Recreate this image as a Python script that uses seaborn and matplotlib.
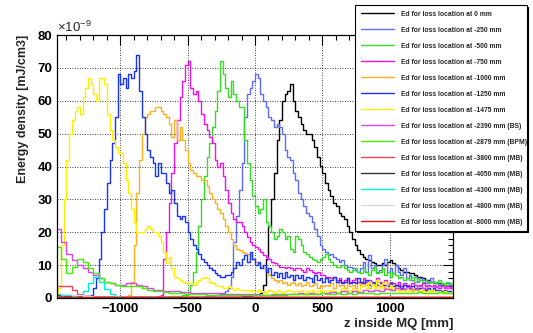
"""energy density along MQ for several beam loss locations"""

import pandas as pd
import matplotlib
matplotlib.use("Agg")
import matplotlib.pyplot as plt
from matplotlib.ticker import MultipleLocator
import seaborn as sns

# fine bins (20 mm) for the peaked series, coarse bins (40 mm) for far losses
z_fine = list(range(-1470, 1471, 20))
edges_fine = list(range(-1480, 1481, 20))
z_coarse = list(range(-1460, 1461, 40))
edges_coarse = list(range(-1480, 1481, 40))

labels = [
    "Ed for loss location at 0 mm",
    "Ed for loss location at -250 mm",
    "Ed for loss location at -500 mm",
    "Ed for loss location at -750 mm",
    "Ed for loss location at -1000 mm",
    "Ed for loss location at -1250 mm",
    "Ed for loss location at -1475 mm",
    "Ed for loss location at -2390 mm (BS)",
    "Ed for loss location at -2879 mm (BPM)",
    "Ed for loss location at -3800 mm (MB)",
    "Ed for loss location at -4050 mm (MB)",
    "Ed for loss location at -4300 mm (MB)",
    "Ed for loss location at -4800 mm (MB)",
    "Ed for loss location at -8000 mm (MB)",
]
colors = ["#000000", "#5b6cff", "#33dd22", "#ee11ee", "#ffb020", "#1733ff", "#ffee00",
          "#dd44ee", "#44ee00", "#ee4455", "#333333", "#00eedd", "#d8d8d8", "#ee1111"]

# values in units of 1e-9 mJ/cm3, 20 mm bins
ed_0 = ([0.8, 0.8, 0.8, 0.7, 0.6, 0.6, 0.5, 0.5, 0.4, 0.4,
         0.4, 0.4] + [0.3] * 54 +
        [0.4, 0.4, 0.4, 0.5,
         0.5, 0.6, 0.7, 0.8, 0.9, 1.0, 1.5, 4, 12, 22,
         30, 38, 48, 54, 60, 62, 63, 65, 60, 57,
         55, 53, 51, 50, 50, 48, 46, 43, 40, 38,
         35, 33, 31, 29, 28, 26, 25, 24, 22, 20,
         18, 16, 14.5, 13.5, 12.5, 12, 11.5, 11, 10.5, 10,
         10, 10.5, 10, 11, 11.5, 10.5, 10, 9, 8.5, 8,
         8, 7.5, 7.5, 7, 6.5, 6.5, 6, 5.5, 5.5, 5,
         5, 4.5, 4.5, 4, 4, 3.5, 3.5, 3])
ed_250 = ([0.5, 0.5, 0.4, 0.4, 0.4] + [0.3] * 45 +
          [0.3, 0.3, 0.4, 0.4, 0.4, 0.5, 0.5, 0.6, 0.7, 0.8,
           1, 1.2, 1.5, 2, 3, 6.5, 17, 25, 33, 41,
           55, 62, 64, 66, 68, 67, 62, 60, 58, 55,
           54, 52, 53, 52, 50, 45, 43, 42, 38, 36,
           32, 30, 28, 26, 25, 23, 21, 19, 16, 15,
           14, 13, 13.5, 12.5, 12, 11, 11.5, 10, 9.5, 9.5,
           9, 8.5, 8, 9, 11, 8, 13, 9, 10, 8,
           8.5, 10, 12, 8, 9, 7.5, 10, 8, 7, 9,
           6, 7, 5.5, 6.5, 5, 6, 5.5, 4.5, 5, 6,
           4.5, 5, 4, 4.5, 3.5, 4.5, 4, 3.5])
ed_500 = ([0.3] * 40 +
          [0.4, 0.4, 0.5, 0.5, 0.6, 0.6, 0.7, 0.8, 1, 1.2,
           4, 8, 14, 22, 30, 37, 43, 47, 52, 57,
           63, 72, 68, 64, 61, 66, 62, 60, 58, 58,
           48, 41, 36, 31, 28, 26, 27, 30, 23, 22,
           20, 18, 19, 21, 20, 18, 19, 15, 14, 19,
           18, 16, 14, 13.5, 12.5, 12, 11.5, 11, 12, 12.5,
           13.5, 12, 11, 10, 9.5, 9.5, 10, 9, 8.5, 8,
           8.5, 9, 8, 7.5, 9, 8, 7, 8.5, 9.5, 7.5,
           8, 9, 7, 8, 6.5, 7.5, 7, 6, 6.5, 5.5,
           6, 5.5, 6.5, 5, 6, 5.5, 5, 5.5, 4.5, 5,
           5, 4.5, 5.5, 4.5, 4, 5, 4.5, 4])
ed_750 = ([0.3] * 37 + [0.4, 0.5, 0.8] +
          [12, 20, 29, 38, 47, 54, 61, 66, 71, 72,
           64, 62, 63, 60, 56, 53, 51, 49, 47, 42,
           40, 41, 37, 33, 29, 26, 24, 23, 23, 22,
           20, 18.5, 17, 16, 15.5, 15, 14, 13, 12.5, 12,
           11, 10.5, 10, 9.5, 9.5, 9, 9.5, 9, 8.5, 9,
           9, 8.5, 8, 9, 8.5, 8, 7.5, 8, 7, 7,
           6.5, 6.5, 6, 6.5, 5.5, 6, 5, 5.5, 6, 5,
           5.5, 6, 5, 4.5, 6, 5, 5.5, 4.5, 5, 6,
           5, 4.5, 5.5, 4, 5, 4.5, 4, 5, 3.5, 4.5,
           4, 3.5, 4.5, 4, 3.5, 4, 4.5, 3.5, 4, 3.5,
           4, 3.5, 3, 3.5, 3, 3.5, 3, 3])
ed_1000 = ([0.3] * 20 +
           [0.3, 0.3, 0.3, 0.3, 0.3, 0.4, 0.5, 1, 5, 16,
            32, 42, 50, 55, 56, 57, 57, 58, 58, 57,
            56, 55, 53, 49, 54, 48, 52, 48, 45, 41,
            39, 38, 37, 37, 36, 36, 34, 32, 30, 29,
            27, 26, 24, 22, 20, 18, 16, 15, 14.5, 14,
            13.7, 13.5, 13, 12, 11, 10.5, 9.5, 9, 8, 7,
            6, 5.5, 5, 5.5, 4.5, 5, 4, 4.5, 5, 4,
            4.5, 3.5, 4, 5, 3.5, 4, 4.5, 3, 4, 3.5,
            4, 3.5, 4.5, 3, 5, 3.5, 4, 3, 4.5, 3.5,
            4, 3, 4.5, 3.5, 5, 4, 3, 4.5, 3.5, 5,
            3.5, 4, 3, 4.5, 3, 2.5, 3.5, 3, 2.5, 3,
            2.5, 3, 2, 2.5, 3, 2, 2.5, 2, 2.5, 2,
            2, 2.5, 2, 1.5, 2, 2, 1.5, 2])
ed_1250 = ([0.3] * 12 +
           [0.5, 1, 3, 6, 12, 20, 27, 35,
            42, 47, 55, 68, 65, 67, 64, 68, 67, 69,
            74, 63, 55, 50, 45, 43, 41, 37, 41, 38,
            38, 35, 32, 33, 29, 25, 24, 25, 23, 20,
            18, 16, 15, 13.5, 12, 11, 10, 9, 8.5, 7.5,
            7, 6.5, 6.5, 7, 7, 8, 9, 11, 10, 12,
            13, 11, 14, 12, 10, 11, 9, 10, 8, 9,
            7, 8, 6.5, 7.5, 6, 8, 6.5, 7, 5.5, 7,
            6, 7, 5.5, 6.5, 6, 5, 7, 5.5, 6, 5,
            6, 5, 5.5, 6.5, 5, 5.5, 4.5, 5, 6, 4.5,
            5, 4.5, 6, 5, 4.5, 5.5, 4, 5, 4.5, 4,
            4.5, 4, 4, 3.5, 4.5, 3.5, 4, 3.5, 3, 4,
            3.5, 3, 3.5, 3, 2.5, 3, 3, 2.5, 3, 2.5,
            3, 2.5, 2.5, 2, 2.5, 2, 2, 2])
ed_1475 = [0.5, 3, 16, 30, 42, 50, 54, 57, 58, 56,
           61, 64, 67, 65, 62, 60, 67, 67, 65, 56,
           51, 48, 46, 44, 44, 41, 36, 32, 27, 23,
           20, 20, 20, 21, 22, 21, 20, 20, 19, 17,
           14, 10.6, 12.5, 9, 6.5, 6, 5.5, 5, 4.5, 4.5,
           4.5, 4, 5, 5.5, 6, 6.5, 6, 5, 4.5, 4,
           3.5, 3.5, 3, 3, 3.5, 3, 2.5, 3, 2.5, 2.5,
           2.5, 2, 2.5, 2, 2, 2.5, 2, 1.5, 2, 2.5,
           2, 1.5, 2.5, 2, 1.5, 2, 2.5, 2, 1.5, 2,
           2, 2.5, 1.5, 2, 2, 2.5, 1.5, 2, 2.5, 2,
           2, 1.5, 2.5, 2, 1.5, 2, 3, 2, 2.5, 2,
           3, 2, 2.5, 3.5, 4, 3, 5, 4, 3, 5.5,
           3, 4.5, 5, 3, 4, 2.5, 3, 2, 2.5, 2,
           2.5, 2, 3, 2.5, 2, 2.5, 2, 1.5, 2, 2.5,
           2, 1.5, 2, 1.5, 2, 1.5, 1.5, 2]

# far loss locations, 40 mm bins
ed_2390 = [21, 17, 13.5, 11.5, 10, 9, 8, 7, 6, 5,
           4.5, 4, 4, 4.5, 4.5, 4, 3.5, 3, 2.5, 2.5,
           2.2, 2, 2, 1.8, 1.8, 1.6, 1.6, 1.5, 1.5, 1.4,
           1.4, 1.3, 1.3, 1.2, 1.2, 1.2, 1.1, 1.1, 1.0, 1.0,
           1.0, 1.2, 1.0, 1.3, 1.1, 1.4, 1.2, 1.5, 1.3, 1.6,
           1.4, 1.8, 1.5, 2.0, 1.6, 2.2, 1.8, 2.5, 2.0, 2.4,
           2.2, 2.8, 2.4, 3.0, 2.6, 3.2, 2.8, 3.5, 3.0, 3.8,
           3.2, 3.6, 3.0, 3.4]
ed_2879 = [15.5, 12, 7.5, 9.5, 12, 11, 9, 7.5, 6, 5,
           4.5, 4, 3.5, 3.5, 3.5, 3.5, 3, 2.5, 2, 2,
           1.8, 1.5, 1.5, 1.4, 1.3, 1.2, 1.2, 1.1, 1.0, 1.0,
           1.0, 1.0, 0.9, 0.9, 1.0, 1.0, 0.9, 1.0, 1.0, 1.0,
           1.1, 1.0, 1.2, 1.1, 1.3, 1.2, 1.1, 1.3, 1.2, 1.4,
           1.2, 1.3, 1.5, 1.2, 1.4, 1.3, 1.5, 1.4, 1.6, 1.3,
           1.5, 1.4, 1.6, 1.5, 1.4, 1.6, 1.5, 1.7, 1.5, 1.6,
           1.5, 1.7, 1.6, 1.5]
ed_3800 = [3.8, 3.6, 3.6, 2.4, 1.2, 0.6, 0.4, 0.3] + [0.2] * 66
ed_4050 = [1.0, 0.9, 0.8, 0.7, 0.7, 0.6, 0.5, 0.4] + [0.3] * 66
ed_4300 = [1.2, 1.0, 0.8, 0.6, 0.8, 2, 4.5, 6.5, 5, 2.8,
           1.2, 0.6, 0.4] + [0.2] * 61
ed_4800 = [1.5, 1.3, 1.1, 0.9, 0.8, 0.6, 0.5, 0.4] + [0.3] * 66
ed_8000 = [0.4, 0.4, 0.3] + [0.2] * 71

series = [ed_0, ed_250, ed_500, ed_750, ed_1000, ed_1250, ed_1475,
          ed_2390, ed_2879, ed_3800, ed_4050, ed_4300, ed_4800, ed_8000]

sns.set_theme(style="white")
plt.rcParams["font.family"] = ["Liberation Sans", "DejaVu Sans"]
plt.rcParams["font.weight"] = "bold"
plt.rcParams["mathtext.default"] = "regular"

fig = plt.figure(figsize=(5.33, 3.33), dpi=100)
ax = fig.add_axes([57 / 533, 35 / 333, 396 / 533, 263 / 333])

for vals, lab, col in zip(series, labels, colors):
    if len(vals) == len(z_fine):
        z, edges = z_fine, edges_fine
    else:
        z, edges = z_coarse, edges_coarse
    df = pd.DataFrame({"z": z, "ed": vals})
    sns.histplot(data=df, x="z", weights="ed", bins=edges, element="step",
                 fill=False, color=col, linewidth=1.0, label=lab, ax=ax)

ax.set_xlim(-1470, 1470)
ax.set_ylim(0, 80)
ax.xaxis.set_major_locator(MultipleLocator(500))
ax.xaxis.set_minor_locator(MultipleLocator(100))
ax.yaxis.set_major_locator(MultipleLocator(10))
ax.yaxis.set_minor_locator(MultipleLocator(2))
ax.tick_params(which="both", direction="in", top=True, right=True, colors="black",
               labelsize=9.5, width=0.8)
ax.tick_params(which="major", length=7)
ax.tick_params(which="minor", length=3.5)
for lab in ax.get_xticklabels() + ax.get_yticklabels():
    lab.set_fontweight("bold")
ax.grid(True, which="major", color="black", linestyle=(0, (1, 2)), linewidth=0.6)
for s in ax.spines.values():
    s.set_color("black")
    s.set_linewidth(0.9)

ax.set_xlabel("z inside MQ [mm]", fontsize=9.5, fontweight="bold", loc="right",
              labelpad=2)
ax.set_ylabel("Energy density [mJ/cm3]", fontsize=9, fontweight="bold", loc="top",
              labelpad=6)
fig.text(57 / 533, 1 - 35 / 333, r"$\times$10$^{-9}$", fontsize=9.5,
         fontweight="normal", va="bottom", ha="left")

handles, labs = ax.get_legend_handles_labels()
leg = fig.legend(handles, labs, loc="upper left",
                 bbox_to_anchor=(352 / 533, 1 - 2 / 333, 178 / 533, 0.0), mode="expand",
                 fontsize=4.9, frameon=True, fancybox=False, handlelength=4.9,
                 handletextpad=1.0, labelspacing=1.32, borderpad=0.8,
                 shadow={"color": "black", "alpha": 1.0, "ox": 1.0, "oy": -1.0})
leg.get_frame().set_edgecolor("black")
leg.get_frame().set_linewidth(0.8)
for t in leg.get_texts():
    t.set_fontweight("bold")
for h in leg.get_lines():
    h.set_linewidth(1.0)

fig.savefig("out.png", dpi=100)
plt.close(fig)
